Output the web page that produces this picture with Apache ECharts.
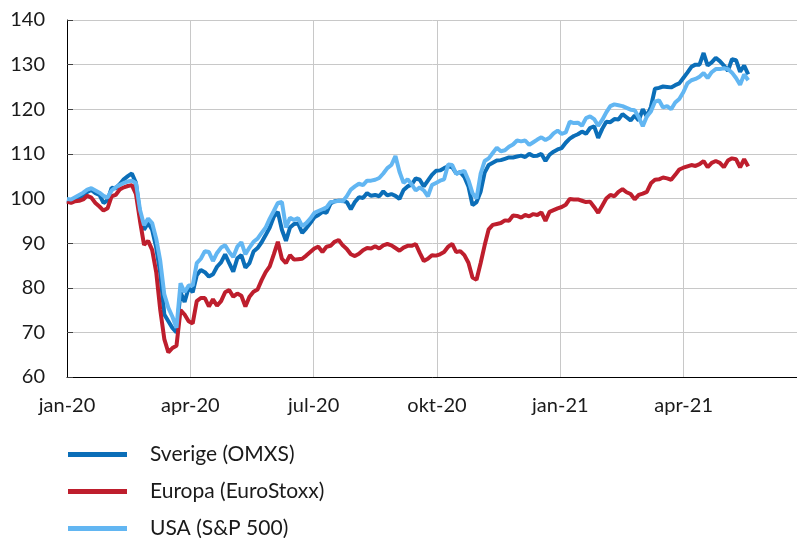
<!DOCTYPE html>
<html>
<head>
<meta charset="utf-8">
<script src="https://cdn.jsdelivr.net/npm/echarts@6/dist/echarts.min.js"></script>
<style>
html,body{margin:0;padding:0;background:#fff;}
#chart{width:797px;height:538px;}
</style>
</head>
<body>
<div id="chart"></div>
<script>
// day offsets from 2020-01-01
const dayOffsets = [
0,3,6,9,12,15,18,21,24,27,
30,33,36,39,42,45,48,51,54,57,
60,63,66,69,72,75,78,81,84,87,
90,93,96,99,102,105,108,111,114,117,
120,123,126,129,132,135,138,141,144,147,
150,153,156,159,162,165,168,171,174,177,
180,183,186,189,192,195,198,201,204,207,
210,213,216,219,222,225,228,231,234,237,
240,243,246,249,252,255,258,261,264,267,
270,273,276,279,282,285,288,291,294,297,
300,303,306,309,312,315,318,321,324,327,
330,333,336,339,342,345,348,351,354,357,
360,363,366,369,372,375,378,381,384,387,
390,393,396,399,402,405,408,411,414,417,
420,423,426,429,432,435,438,441,444,447,
450,453,456,459,462,465,468,471,474,477,
480,483,486,489,492,495,498,501,504
];

const sverige = [
99.6,99.3,99.6,100.0,100.5,101.5,101.9,101.2,100.8,99.0,
99.6,102.4,102.3,103.2,104.3,105.0,105.6,103.5,96.5,93.0,
94.5,93.0,89.0,83.3,74.0,72.5,71.0,70.0,79.0,76.8,
80.0,79.0,82.8,84.0,83.5,82.5,83.0,84.7,85.7,87.5,
85.5,83.6,86.6,87.3,84.5,85.5,88.1,88.9,90.2,91.8,
93.5,95.9,97.0,93.0,90.5,93.5,94.3,94.4,92.3,93.3,
94.5,95.8,96.3,97.0,96.8,98.9,99.4,99.5,99.5,99.2,
97.6,99.2,100.3,100.1,101.2,100.6,100.8,100.5,101.6,100.7,
101.0,100.6,99.9,101.9,102.7,103.1,104.5,104.2,102.7,104.0,
105.3,106.2,106.3,106.8,107.2,107.0,105.6,105.9,104.8,102.7,
98.5,99.2,101.5,105.8,107.5,108.0,108.5,108.6,108.9,109.2,
109.2,109.4,109.6,109.3,110.0,109.5,109.6,110.0,108.4,109.8,
110.5,111.0,111.3,112.5,113.4,114.0,114.4,115.0,114.5,115.8,
116.2,113.6,115.6,117.2,117.1,117.8,117.7,118.9,118.2,117.5,
118.6,117.5,120.0,118.4,120.5,124.6,124.8,125.1,125.0,124.9,
125.4,125.8,127.0,128.2,129.5,130.0,130.0,132.6,129.8,130.5,
131.5,130.8,129.8,128.6,131.2,131.0,128.4,129.8,127.8
];

const europa = [
99.3,99.0,99.4,99.5,99.8,100.6,100.2,99.0,98.2,97.3,
97.8,100.5,100.8,102.0,102.5,102.8,103.0,101.0,95.0,89.6,
90.5,88.5,83.5,75.0,68.5,65.5,66.5,67.0,75.0,74.0,
72.5,72.0,77.0,77.7,77.7,75.8,77.4,76.0,77.0,79.0,
79.5,78.0,78.7,78.2,75.8,78.0,79.1,79.6,81.7,83.5,
84.8,87.5,90.3,86.5,85.5,87.3,86.3,86.4,86.5,87.2,
88.0,88.8,89.2,88.0,89.2,89.4,90.3,90.7,89.5,88.7,
87.5,87.1,87.6,88.4,88.9,88.8,89.3,88.8,89.5,89.8,
89.5,88.9,88.3,89.0,89.4,89.4,89.8,87.8,86.0,86.5,
87.3,87.2,87.5,88.0,89.2,89.8,88.0,88.2,87.3,85.6,
82.3,81.8,85.5,89.5,93.1,94.1,94.3,94.5,95.1,95.0,
96.2,96.1,95.7,96.3,96.0,96.5,96.3,96.9,95.0,97.0,
97.4,97.8,98.1,98.6,99.9,99.8,99.8,99.5,99.2,99.3,
98.1,96.8,98.4,100.0,100.8,100.5,101.5,102.1,101.4,101.0,
99.8,100.8,101.1,101.5,103.4,104.2,104.3,104.7,104.5,104.2,
105.3,106.5,106.9,107.2,107.5,107.3,107.7,108.4,107.0,108.0,
108.4,108.0,107.0,108.5,109.0,108.8,107.0,108.8,107.2
];

const usa = [
99.9,99.8,100.3,100.8,101.3,102.0,102.3,101.8,101.3,100.6,
100.2,101.8,102.5,103.0,103.5,103.8,104.0,103.5,97.5,94.0,
95.5,94.5,91.0,86.0,78.5,75.5,73.5,71.0,81.0,79.0,
80.5,80.5,85.5,86.5,88.2,88.0,86.0,87.8,89.0,89.5,
88.0,86.9,89.2,90.2,87.5,89.0,90.3,91.0,92.3,93.5,
95.5,97.2,99.0,99.2,93.5,95.7,95.2,95.6,93.8,94.5,
95.5,96.8,97.2,97.6,98.0,99.2,99.3,99.5,99.4,100.5,
102.0,102.7,103.3,103.0,104.0,104.0,104.2,104.6,105.6,106.8,
107.5,109.5,106.0,103.5,104.3,103.2,101.8,102.5,101.8,100.5,
103.0,103.5,104.0,104.3,107.6,107.5,105.5,105.9,106.2,104.1,
101.2,100.0,105.5,108.4,109.0,110.2,111.4,110.6,110.8,111.6,
112.1,113.0,112.8,113.0,112.0,112.6,113.2,113.7,113.1,113.6,
114.6,115.2,114.5,114.8,117.2,116.9,117.0,116.3,118.0,118.4,
117.8,116.3,117.6,119.3,120.7,121.1,120.9,120.7,120.3,119.9,
119.8,118.2,116.2,118.4,119.5,121.7,122.0,120.4,120.7,120.0,
121.5,122.3,123.8,125.8,126.5,126.8,127.3,128.1,127.0,128.3,
129.0,129.0,129.2,129.0,128.2,127.0,125.5,127.8,126.5
];

const seriesNames = ['Sverige (OMXS)', 'Europa (EuroStoxx)', 'USA (S&P 500)'];
const seriesColors = ['#0B6EB8', '#BE1E2D', '#62B6F2'];
const xTickLabels = ['jan-20', 'apr-20', 'jul-20', 'okt-20', 'jan-21', 'apr-21'];
const quarterDays = 91.25;

function pairs(vals) {
  return vals.map((v, i) => [dayOffsets[i], v]);
}

const FONT = 'Lato, "Open Sans", sans-serif';
const chart = echarts.init(document.getElementById('chart'), null, {renderer: 'canvas'});
const allSeries = [sverige, europa, usa];

chart.setOption({
  animation: false,
  backgroundColor: '#ffffff',
  grid: {left: 67, top: 20, height: 357, width: 740, containLabel: false, outerBoundsMode: 'none'},
  xAxis: {
    type: 'value',
    min: 0,
    max: quarterDays * 6,
    interval: quarterDays,
    axisLine: {show: true, lineStyle: {color: '#000', width: 1}},
    axisTick: {show: false},
    splitLine: {show: true, lineStyle: {color: '#c8c8c8', width: 1}},
    axisLabel: {
      margin: 19,
      fontSize: 20,
      fontFamily: FONT,
      color: '#1a1a1a',
      showMaxLabel: false,
      formatter: function (v) {
        const idx = Math.round(v / quarterDays);
        return (Math.abs(idx * quarterDays - v) < 0.01 && idx < xTickLabels.length) ? xTickLabels[idx] : '';
      }
    }
  },
  yAxis: {
    type: 'value',
    min: 60,
    max: 140,
    interval: 10,
    axisLine: {show: true, lineStyle: {color: '#000', width: 1}},
    axisTick: {show: true, inside: true, length: 6, lineStyle: {color: '#404040'}},
    splitLine: {show: true, lineStyle: {color: '#c8c8c8', width: 1}},
    axisLabel: {margin: 22, fontSize: 20, fontFamily: FONT, color: '#1a1a1a'}
  },
  legend: {
    orient: 'vertical',
    left: 68,
    top: 444,
    height: 150,
    padding: 0,
    icon: 'rect',
    itemWidth: 59,
    itemHeight: 5,
    itemGap: 16,
    data: seriesNames,
    textStyle: {fontSize: 21, fontFamily: FONT, color: '#1a1a1a', lineHeight: 20, padding: [0, 0, 0, 18]}
  },
  series: allSeries.map((vals, k) => ({
    name: seriesNames[k],
    type: 'line',
    data: pairs(vals),
    symbol: 'none',
    smooth: false,
    color: seriesColors[k],
    lineStyle: {width: 4, color: seriesColors[k]},
    z: 2 + k
  }))
});
</script>
</body>
</html>
